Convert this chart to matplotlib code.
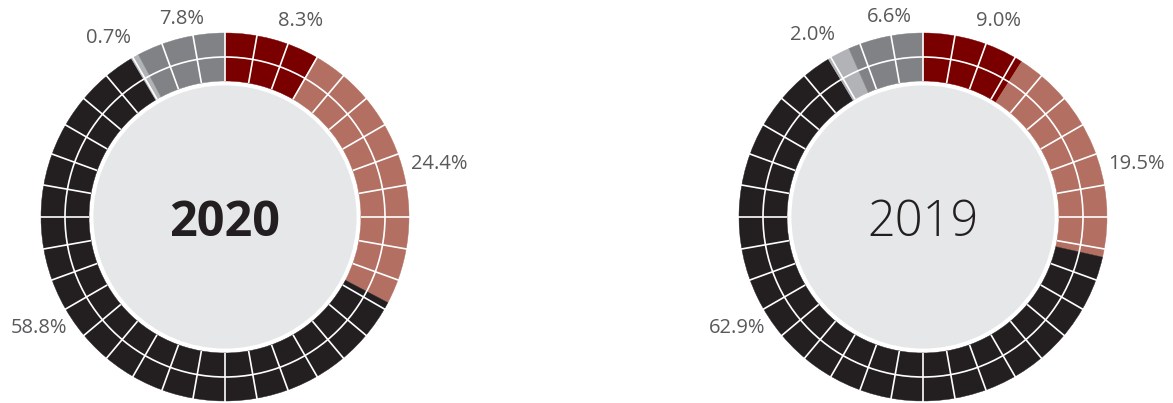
import numpy as np
import matplotlib
matplotlib.use("Agg")
import matplotlib.pyplot as plt
from matplotlib.patches import Wedge, Circle

# ---- data ----
years = ["2020", "2019"]
categories = ["A", "B", "C", "D", "E"]
values_2020 = [8.3, 24.4, 58.8, 0.7, 7.8]
values_2019 = [9.0, 19.5, 62.9, 2.0, 6.6]
labels_2020 = ["8.3%", "24.4%", "58.8%", "0.7%", "7.8%"]
labels_2019 = ["9.0%", "19.5%", "62.9%", "2.0%", "6.6%"]

# ---- style / layout ----
colors = ["#7a0000", "#b26f62", "#231f20", "#b1b3b6", "#808285"]
label_angles = [[16, 74, 235, 331, 347], [16, 74, 235, 333, 350]]  # clockwise from top
year_weights = ["bold", "light"]
centers = [(225, 403 - 217), (923, 403 - 217)]
R_OUT, R_MID, R_IN, R_CORE = 184, 160, 136, 133
R_LAB = 193

plt.rcParams['font.family'] = ['Open Sans', 'DejaVu Sans']
fig = plt.figure(figsize=(11.73, 4.03), dpi=100)
ax = fig.add_axes([0, 0, 1, 1])
ax.set_xlim(0, 1173)
ax.set_ylim(0, 403)
ax.set_aspect('equal')
ax.axis('off')

for (cx, cy), year, vals, labs, langs, wt in zip(
        centers, years, [values_2020, values_2019], [labels_2020, labels_2019],
        label_angles, year_weights):
    total = sum(vals)
    start = 0.0
    for v, c in zip(vals, colors):
        end = start + v / total
        t1 = 90 - end * 360
        t2 = 90 - start * 360
        ax.add_patch(Wedge((cx, cy), R_OUT, t1, t2, width=R_OUT - R_IN,
                           facecolor=c, edgecolor=c, linewidth=0.3))
        start = end
    # white grid: radial spokes every 10 degrees and a middle circle
    for a in range(0, 360, 10):
        th = np.deg2rad(90 - a)
        ax.plot([cx + R_IN * np.cos(th), cx + (R_OUT + 1) * np.cos(th)],
                [cy + R_IN * np.sin(th), cy + (R_OUT + 1) * np.sin(th)],
                color="white", lw=1.2, solid_capstyle='butt')
    ax.add_patch(Circle((cx, cy), R_MID, facecolor='none', edgecolor='white', lw=1.2))
    ax.add_patch(Circle((cx, cy), R_CORE, facecolor='#e6e7e8', edgecolor='white', lw=2))
    ax.text(cx, cy, year, ha='center', va='center_baseline', fontsize=35,
            fontweight=wt, color='#231f20')
    # labels
    for lab, ang in zip(labs, langs):
        th = np.deg2rad(ang)
        s, co = np.sin(th), np.cos(th)
        x = cx + R_LAB * s
        y = cy + R_LAB * co
        ha = 'left' if s > 0.25 else ('right' if s < -0.25 else 'center')
        va = 'bottom' if co > 0.5 else 'center'
        ax.text(x, y, lab, ha=ha, va=va, fontsize=14.5, color='#58595b')

fig.savefig("out.png", dpi=100)
